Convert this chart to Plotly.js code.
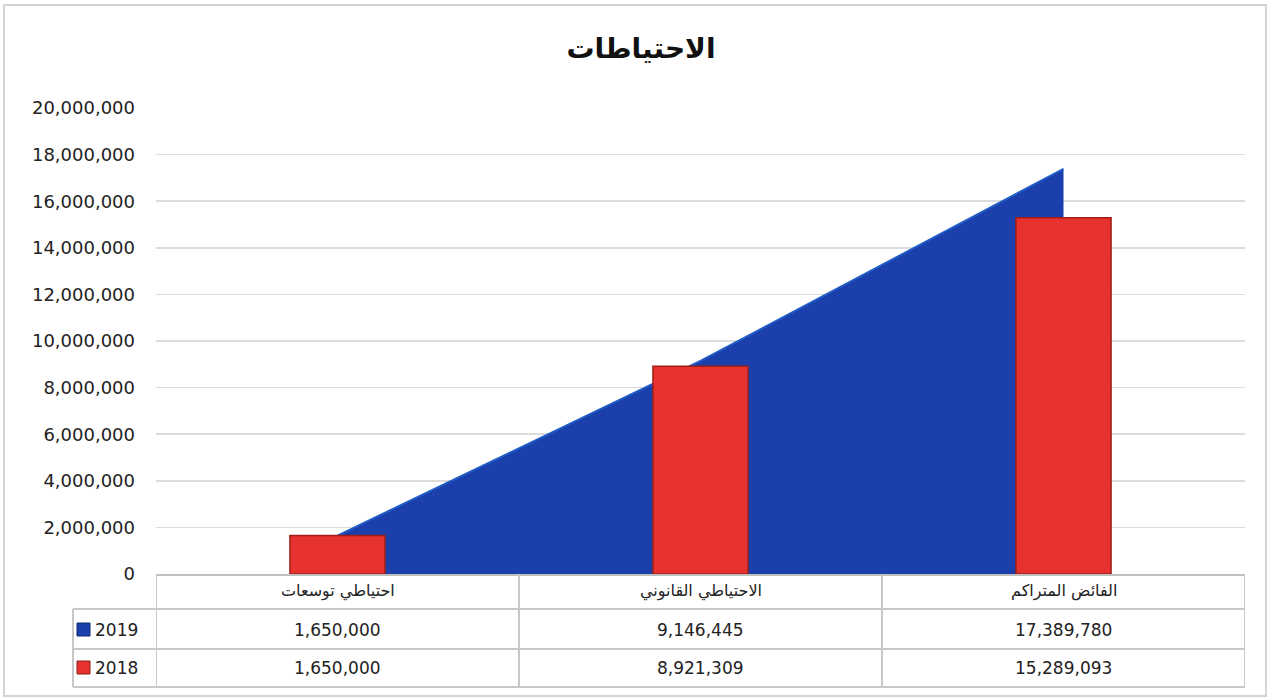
<!DOCTYPE html>
<html>
<head>
<meta charset="utf-8">
<script src="https://cdn.plot.ly/plotly-3.0.1.min.js"></script>
<style>
html,body{margin:0;padding:0;background:#fff;}
#chart{width:1270px;height:698px;}
</style>
</head>
<body>
<div id="chart"></div>
<script>
// ---- data ----
const categories = ['احتياطي توسعات', 'الاحتياطي القانوني', 'الفائض المتراكم'];
const seriesNames = ['2019', '2018'];
const values2019 = [1650000, 9146445, 17389780];
const values2018 = [1650000, 8921309, 15289093];
const yTickVals = [0, 2000000, 4000000, 6000000, 8000000, 10000000, 12000000, 14000000, 16000000, 18000000, 20000000];

// ---- layout geometry (pixels) ----
const W = 1270, H = 698;
const mL = 156, mR = 25, mT = 108, mB = 124;
const pw = W - mL - mR, ph = H - mT - mB;
const px = x => (x - mL) / pw;          // page px -> paper x
const py = y => (H - mB - y) / ph;      // page px -> paper y

const xIdx = categories.map((c, i) => i);
const fmt = v => v.toLocaleString('en-US');

const blue = '#1b3fab', red = '#e8322f';
const gridC = '#dcdcdc', tableC = '#c8c8c8';
const yRange = [0, 20000000];

const traces = [
  {
    type: 'scatter', mode: 'lines', x: xIdx, y: values2019, name: seriesNames[0],
    fill: 'tozeroy', fillcolor: blue, line: {color: '#1f5cc6', width: 2},
    xaxis: 'x', yaxis: 'y'
  },
  {
    type: 'bar', x: xIdx, y: values2018, name: seriesNames[1], width: 0.262,
    marker: {color: red, line: {color: '#9e1f18', width: 1.5}},
    xaxis: 'x', yaxis: 'y2'
  }
];

const shapes = [];
const annotations = [];
const lineS = (xref, x0, x1, y0, y1) => shapes.push({type: 'line', xref: xref, yref: 'paper', x0: x0, x1: x1, y0: y0, y1: y1, line: {color: tableC, width: 2}, layer: 'above'});

// outer frame
shapes.push({type: 'rect', xref: 'paper', yref: 'paper', x0: px(4), x1: px(1266), y0: py(696), y1: py(5), line: {color: '#d4d4d4', width: 2}});

// table grid
const yRow1 = py(609), yRow2 = py(649), yBot = py(687);
for (let k = 0; k <= categories.length; k++) lineS('x', k - 0.5, k - 0.5, 0, yBot);
[yRow1, yRow2, yBot].forEach(y => lineS('paper', px(73), 1, y, y));
lineS('paper', px(73), px(73), yRow1, yBot);

// header labels
categories.forEach((c, i) => annotations.push({xref: 'x', yref: 'paper', x: i, y: py(591), text: c, showarrow: false, xanchor: 'center', yanchor: 'middle', font: {family: 'DejaVu Sans', size: 16, color: '#222'}}));
// value rows
const rows = [[values2019, py(630)], [values2018, py(668)]];
rows.forEach(([vals, y]) => vals.forEach((v, i) => annotations.push({xref: 'x', yref: 'paper', x: i, y: y, text: fmt(v), showarrow: false, xanchor: 'center', yanchor: 'middle', font: {family: 'DejaVu Sans', size: 17, color: '#222'}})));
// legend keys
const keyColors = [blue, red];
seriesNames.forEach((s, j) => {
  const cy = j === 0 ? 630 : 668;
  shapes.push({type: 'rect', xref: 'paper', yref: 'paper', x0: px(77), x1: px(90), y0: py(cy + 6), y1: py(cy - 7), fillcolor: keyColors[j], line: {color: j === 0 ? '#0d2a70' : '#8a2018', width: 1}});
  annotations.push({xref: 'paper', yref: 'paper', x: px(93), y: py(cy), text: s, showarrow: false, xanchor: 'left', yanchor: 'middle', font: {family: 'DejaVu Sans', size: 17, color: '#222'}});
});

const layout = {
  width: W, height: H,
  margin: {l: mL, r: mR, t: mT, b: mB},
  paper_bgcolor: '#fff', plot_bgcolor: '#fff',
  showlegend: false, hovermode: false,
  title: {text: '<b>الاحتياطات</b>', font: {family: 'DejaVu Sans', size: 28, color: '#111'}, xref: 'container', x: 641 / W, xanchor: 'center', yref: 'container', y: 1 - 48 / H, yanchor: 'middle'},
  xaxis: {range: [-0.5, 2.5], showticklabels: false, showgrid: false, zeroline: false, showline: true, linecolor: '#bfbfbf', linewidth: 2, fixedrange: true},
  yaxis: {range: yRange, tickvals: yTickVals, tickformat: ',d', showgrid: true, gridcolor: gridC, gridwidth: 1.5, zeroline: false, showline: false, ticklabelstandoff: 20, tickfont: {family: 'DejaVu Sans', size: 18, color: '#222'}, fixedrange: true},
  yaxis2: {range: yRange, overlaying: 'y', side: 'left', showticklabels: false, showgrid: false, zeroline: false, showline: false, fixedrange: true},
  shapes: shapes,
  annotations: annotations
};

Plotly.newPlot('chart', traces, layout, {displayModeBar: false, staticPlot: true});
</script>
</body>
</html>
